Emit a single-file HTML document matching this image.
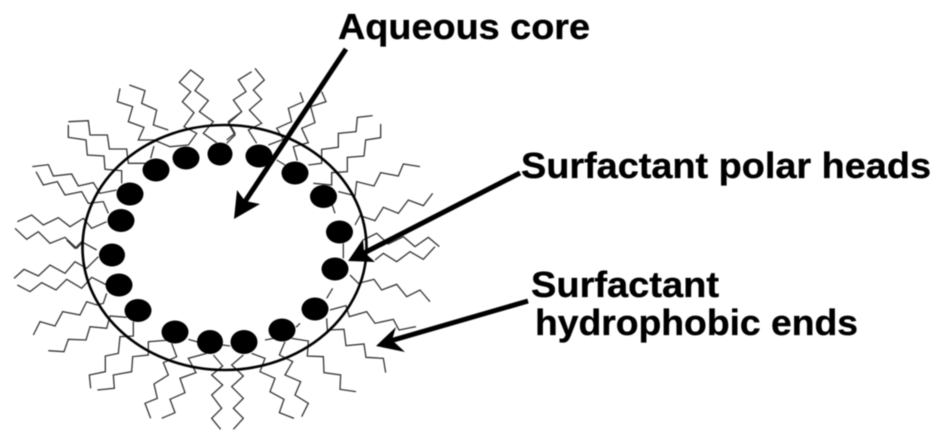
<!DOCTYPE html>
<html><head><meta charset="utf-8"><style>
html,body{margin:0;padding:0;background:#fff;width:945px;height:438px;overflow:hidden}
svg{display:block;filter:blur(.45px)}
.t polyline{fill:none;stroke:#333;stroke-width:3.9;stroke-linejoin:miter}
text{font-family:"Liberation Sans",sans-serif;font-weight:bold;font-size:36px;fill:#000;stroke:#000;stroke-width:.35}
</style></head><body>
<svg width="945" height="438" viewBox="0 0 945 438" xmlns="http://www.w3.org/2000/svg">
<g class="t" transform="translate(0,50) scale(.33333)">
<polyline points="650,278 610,250 640,215 598,185 625,152 585,122 610,88 572,60 538,97 572,125 547,155 582,188 552,230 590,250 565,285 510,290 462,270 415,270 432,232 385,215 398,170 352,155 360,115"/>
<polyline points="388,105 435,122 425,160 470,180 460,225 505,240"/>
<polyline points="462,288 452,325"/>
<polyline points="205,215 265,212 270,255 322,255 328,297 380,297 385,340 450,340"/>
<polyline points="205,225 205,262 258,270 262,315 312,318 315,358 365,362 365,400"/>
<polyline points="97,350 145,344 160,378 215,372 235,408 280,398 300,430 350,420"/>
<polyline points="108,365 130,405 172,395 195,435 245,425 265,460 310,455 325,490"/>
<polyline points="52,515 95,495 130,525 175,503 210,530 250,505 275,535 320,515"/>
<polyline points="45,535 80,568 115,545 150,580 195,562 230,595 245,580"/>
<polyline points="680,280 705,255 685,220 725,185"/>
</g>
<g class="t" transform="translate(220,50) scale(.33333)">
<polyline points="20,270 45,250 25,215 65,185 40,150 78,125 55,90 95,65"/>
<polyline points="105,55 133,90 100,120 125,148 88,180 125,220 85,240 110,280"/>
<polyline points="145,285 190,268 170,235 215,215 205,175 250,155 240,127"/>
<polyline points="232,332 220,290 265,278 245,235 285,218 272,170 318,155 305,125"/>
<polyline points="170,330 195,345"/>
<polyline points="265,345 305,340 305,298 355,292 355,250 408,245 412,202 458,197"/>
<polyline points="280,400 335,405 335,368 382,365 382,322 432,318 437,270 482,263 482,222"/>
<polyline points="355,425 405,437 410,395 462,408 482,368 535,378 550,342 600,350"/>
<polyline points="335,460 345,490"/>
</g>
<g class="t" transform="translate(320,150) scale(.33333)">
<polyline points="105,225 120,197 165,212 190,172 235,190 265,150 310,167 338,130"/>
<polyline points="130,270 170,250 205,282 250,260 285,290 325,262 358,290"/>
<polyline points="165,330 190,310 230,335 270,305 310,328 345,290"/>
<polyline points="70,280 70,325"/>
</g>
<g class="t" transform="translate(0,240) scale(.33333)">
<polyline points="200,0 225,25 245,5 290,30"/>
<polyline points="42,115 72,88 115,108 150,75 195,100 225,65 260,85 295,50"/>
<polyline points="52,135 90,155 125,128 168,150 200,118 245,145 275,112 320,135"/>
<polyline points="100,285 120,245 165,258 188,215 240,225 260,185 290,195 310,190 320,160"/>
<polyline points="145,332 192,335 205,298 258,300 270,260 320,265 330,228 380,232"/>
<polyline points="400,245 400,288 360,290 355,340 316,348 316,395 268,405 272,445"/>
<polyline points="292,450 343,445 340,405 395,395 398,350 445,345 445,305 510,300"/>
<polyline points="515,310 530,350 490,368 505,405 462,432 472,475 435,490 452,535"/>
<polyline points="485,535 525,518 510,478 555,458 540,415 588,398 565,355 620,340"/>
<polyline points="640,345 668,378 635,405 668,435 635,465 665,505 635,535 662,568"/>
<polyline points="565,298 600,308"/>
<polyline points="668,315 690,318"/>
</g>
<g class="t" transform="translate(220,240) scale(.33333)">
<polyline points="70,345 35,375 70,408 35,440 70,475 40,505 70,535 40,568"/>
<polyline points="95,340 135,355 120,395 165,415 150,455 192,478 178,518 222,535"/>
<polyline points="245,530 265,490 225,465 242,425 195,405 218,365 178,345 195,305"/>
<polyline points="135,300 160,295"/>
<polyline points="215,295 265,303 262,348 310,350 312,398 362,405 360,448 408,455"/>
<polyline points="320,235 322,270 372,268 378,317 432,312 438,352 490,355 497,398"/>
<polyline points="330,210 378,197 388,230 440,215 465,250 520,238 537,270 588,260"/>
<polyline points="390,105 415,130 462,118 485,150 530,133 560,170 600,150 630,185"/>
<polyline points="320,175 338,145"/>
<polyline points="228,262 240,250"/>
</g>
<ellipse cx="224.5" cy="247.5" rx="142" ry="122.5" fill="none" stroke="#000" stroke-width="2.6"/>
<g fill="#000">
<ellipse cx="220" cy="154" rx="12.5" ry="11.5"/>
<ellipse cx="186" cy="158" rx="13.5" ry="11.5"/>
<ellipse cx="156" cy="170" rx="13.5" ry="11.5"/>
<ellipse cx="130" cy="194" rx="13.5" ry="11.5"/>
<ellipse cx="121" cy="220.5" rx="13.5" ry="11.5"/>
<ellipse cx="112" cy="255" rx="13" ry="11.5"/>
<ellipse cx="119" cy="285" rx="13.5" ry="11.5"/>
<ellipse cx="138" cy="310.5" rx="13.5" ry="11.5"/>
<ellipse cx="175" cy="332" rx="13.5" ry="11.5"/>
<ellipse cx="210" cy="342" rx="13" ry="12"/>
<ellipse cx="244" cy="342" rx="13.5" ry="12"/>
<ellipse cx="282" cy="330" rx="13.5" ry="11.5"/>
<ellipse cx="315" cy="309" rx="13.5" ry="11.5"/>
<ellipse cx="335" cy="269" rx="13.5" ry="11.5"/>
<ellipse cx="339.5" cy="232" rx="13.5" ry="11.5"/>
<ellipse cx="323.5" cy="196.5" rx="13.5" ry="11.5"/>
<ellipse cx="295" cy="173" rx="13.5" ry="11.5"/>
<ellipse cx="259" cy="156" rx="13.5" ry="11.5"/>
<polygon points="234,219 237,190 245,201 260,204"/>
<polygon points="348,261 363,239 364,252 375,262"/>
<polygon points="376,346 396,327 392,340 405,352"/>
</g>
<g stroke="#000" stroke-width="5" fill="none">
<line x1="346" y1="49" x2="244" y2="203"/>
<line x1="520" y1="173" x2="362" y2="254"/>
<line x1="528" y1="301" x2="390" y2="341"/>
</g>
<text x="338" y="39" textLength="252" lengthAdjust="spacingAndGlyphs">Aqueous core</text>
<text x="521" y="178" textLength="410" lengthAdjust="spacingAndGlyphs">Surfactant polar heads</text>
<text x="531" y="297" textLength="188" lengthAdjust="spacingAndGlyphs">Surfactant</text>
<text x="535" y="335" textLength="323" lengthAdjust="spacingAndGlyphs">hydrophobic ends</text>
</svg>
</body></html>
